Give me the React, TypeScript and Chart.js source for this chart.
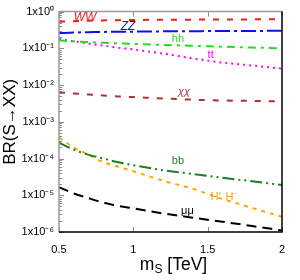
import { useEffect, useRef } from "react";
import { Chart, registerables } from "chart.js";

Chart.register(...registerables);

// ---- data ----
const masses = [0.5, 0.6, 0.7, 0.8, 0.9, 1.0, 1.2, 1.4, 1.6, 1.8, 2.0];
const brWW = [0.53, 0.55, 0.565, 0.575, 0.585, 0.59, 0.6, 0.605, 0.61, 0.615, 0.62];
const brZZ = [0.26, 0.27, 0.275, 0.28, 0.283, 0.285, 0.29, 0.293, 0.296, 0.298, 0.3];
const brHH = [0.165, 0.155, 0.148, 0.142, 0.137, 0.132, 0.124, 0.117, 0.111, 0.105, 0.1];
const brTT = [0.18, 0.155, 0.135, 0.118, 0.104, 0.093, 0.072, 0.053, 0.041, 0.034, 0.028];
const brChi = [0.0063, 0.0059, 0.0055, 0.0052, 0.0049, 0.0047, 0.0043, 0.004, 0.0038, 0.0037, 0.0036];
const brBB = [2.7e-4, 1.74e-4, 1.26e-4, 1.0e-4, 7.9e-5, 6.6e-5, 4.8e-5, 3.8e-5, 3.0e-5, 2.4e-5, 1.9e-5];
const brHpHm = [3.7e-4, 2.0e-4, 1.26e-4, 7.9e-5, 6.0e-5, 4.5e-5, 2.5e-5, 1.5e-5, 7.9e-6, 4.5e-6, 2.6e-6];
const brMuMu = [1.66e-5, 1.12e-5, 8.3e-6, 6.3e-6, 5.1e-6, 4.4e-6, 3.2e-6, 2.45e-6, 1.9e-6, 1.45e-6, 1.1e-6];

const xTicks = [0.5, 1, 1.5, 2];
const yTickExponents = [0, -1, -2, -3, -4, -5, -6];

const curveNames = ["WW", "ZZ", "hh", "tt", "χχ", "bb", "H⁺ H⁻", "μμ"];
const curveLabelX = [0.675, 0.964, 1.3, 1.52, 1.34, 1.3, 1.61, 1.364];
const curveLabelY = [0.69, 0.4, 0.18, 0.066, 0.0066, 8.7e-5, 8.9e-6, 3.8e-6];

const FONT = "'Liberation Sans', Arial, Helvetica, sans-serif";

const SUP: Record<string, string> = {
  "0": "⁰", "1": "¹", "2": "²", "3": "³", "4": "⁴",
  "5": "⁵", "6": "⁶", "7": "⁷", "8": "⁸", "9": "⁹", "-": "⁻",
};
const sup = (s: string) => s.split("").map((c) => SUP[c] ?? c).join("");

const series = [
  { name: "WW", data: brWW, color: "#ee1c1c", dash: [6, 8], italic: true },
  { name: "ZZ", data: brZZ, color: "#1010ee", dash: [15, 4, 3, 4], italic: true },
  { name: "hh", data: brHH, color: "#22dd22", dash: [8, 5, 3, 5], italic: false },
  { name: "tt", data: brTT, color: "#ff00ff", dash: [2, 4], italic: false },
  { name: "χχ", data: brChi, color: "#aa3333", dash: [6, 8], italic: true },
  { name: "bb", data: brBB, color: "#1e7f1e", dash: [12, 4, 2, 4, 2, 4], italic: false },
  { name: "H⁺ H⁻", data: brHpHm, color: "#ffa500", dash: [4, 5], italic: false },
  { name: "μμ", data: brMuMu, color: "#000000", dash: [10, 6], italic: false },
];

const framePlugin = {
  id: "frame",
  afterDatasetsDraw(chart: any) {
    const { ctx, chartArea } = chart;
    const { left, right, top, bottom } = chartArea;
    const xs = chart.scales.x;
    const ys = chart.scales.y;
    ctx.save();
    // ticks
    ctx.strokeStyle = "#8a8a8a";
    ctx.lineWidth = 1;
    for (const e of yTickExponents) {
      for (let k = 1; k <= 9; k++) {
        const v = k * Math.pow(10, e);
        if (v > 1.0000001 || v < 0.9999e-6) continue;
        const py = Math.round(ys.getPixelForValue(v)) + 0.5;
        const len = k === 1 ? 5 : 3;
        ctx.beginPath();
        ctx.moveTo(left, py);
        ctx.lineTo(left + len, py);
        ctx.stroke();
      }
    }
    for (const t of xTicks) {
      const px = Math.round(xs.getPixelForValue(t)) + 0.5;
      ctx.beginPath();
      ctx.moveTo(px, bottom);
      ctx.lineTo(px, bottom - 5);
      ctx.moveTo(px, top);
      ctx.lineTo(px, top + 5);
      ctx.stroke();
    }
    // frame
    ctx.lineWidth = 1.5;
    ctx.strokeStyle = "#999999";
    ctx.beginPath();
    ctx.moveTo(left, bottom);
    ctx.lineTo(left, top);
    ctx.lineTo(right, top);
    ctx.stroke();
    ctx.strokeStyle = "#000000";
    ctx.beginPath();
    ctx.moveTo(right, top);
    ctx.lineTo(right, bottom);
    ctx.lineTo(left, bottom);
    ctx.stroke();

    // curve labels
    ctx.textAlign = "center";
    ctx.textBaseline = "middle";
    curveNames.forEach((name, i) => {
      const s = series[i];
      const px = xs.getPixelForValue(curveLabelX[i]);
      const py = ys.getPixelForValue(curveLabelY[i]);
      const size = i < 2 ? 12 : 11;
      ctx.font = `${s.italic ? "italic " : ""}${size}px ${FONT}`;
      ctx.fillStyle = s.color;
      ctx.fillText(name, px, py);
    });

    // x-axis title with subscript
    const cx = (left + right) / 2 + 3;
    const ty = bottom + 38;
    ctx.textAlign = "left";
    ctx.textBaseline = "alphabetic";
    ctx.fillStyle = "#000";
    const big = `17.5px ${FONT}`;
    const small = `12px ${FONT}`;
    ctx.font = big;
    const wM = ctx.measureText("m").width;
    const wRest = ctx.measureText(" [TeV]").width;
    ctx.font = small;
    const wS = ctx.measureText("S").width;
    const x0 = cx - (wM + wS + wRest) / 2;
    ctx.font = big;
    ctx.fillText("m", x0, ty);
    ctx.font = small;
    ctx.fillText("S", x0 + wM, ty + 3);
    ctx.font = big;
    ctx.fillText(" [TeV]", x0 + wM + wS, ty);
    ctx.restore();
  },
};

export default function App() {
  const ref = useRef<HTMLCanvasElement | null>(null);
  useEffect(() => {
    if (!ref.current) return;
    const chart = new Chart(ref.current, {
      type: "line",
      data: {
        datasets: series.map((s) => ({
          label: s.name,
          data: masses.map((m, i) => ({ x: m, y: s.data[i] })),
          borderColor: s.color,
          backgroundColor: s.color,
          borderDash: s.dash,
          borderWidth: 2,
          pointRadius: 0,
          fill: false,
          cubicInterpolationMode: "monotone" as const,
        })),
      },
      options: {
        animation: false,
        responsive: false,
        maintainAspectRatio: false,
        layout: { padding: { top: 9, right: 18, left: 0, bottom: 0 } },
        plugins: { legend: { display: false }, tooltip: { enabled: false } },
        scales: {
          x: {
            type: "linear",
            min: 0.5,
            max: 2,
            afterBuildTicks: (scale: any) => {
              scale.ticks = xTicks.map((v) => ({ value: v }));
            },
            afterFit: (scale: any) => {
              scale.height = 48;
            },
            grid: { display: false, drawTicks: false },
            border: { display: false },
            ticks: {
              padding: 11,
              color: "#000",
              font: { size: 11, family: FONT },
              maxRotation: 0,
              callback: (v: any) => String(v),
            },
          },
          y: {
            type: "logarithmic",
            min: 1e-6,
            max: 1,
            afterBuildTicks: (scale: any) => {
              scale.ticks = yTickExponents.map((e) => ({ value: Math.pow(10, e) }));
            },
            afterFit: (scale: any) => {
              scale.width = 59;
            },
            grid: { display: false, drawTicks: false },
            border: { display: false },
            title: {
              display: true,
              text: "BR(S→XX)",
              color: "#000",
              font: { size: 17, family: FONT },
              padding: { top: 0, bottom: 0 },
            },
            ticks: {
              padding: 5,
              color: "#000",
              font: { size: 11, family: FONT },
              callback: (v: any) => "1x10" + sup(String(Math.round(Math.log10(Number(v))))),
            },
          },
        },
      },
      plugins: [framePlugin],
    });
    return () => chart.destroy();
  }, []);
  return (
    <div style={{ position: "fixed", left: 0, top: 0, width: 300, height: 280, background: "#fff" }}>
      <canvas ref={ref} width={300} height={280} style={{ width: 300, height: 280 }} />
    </div>
  );
}
